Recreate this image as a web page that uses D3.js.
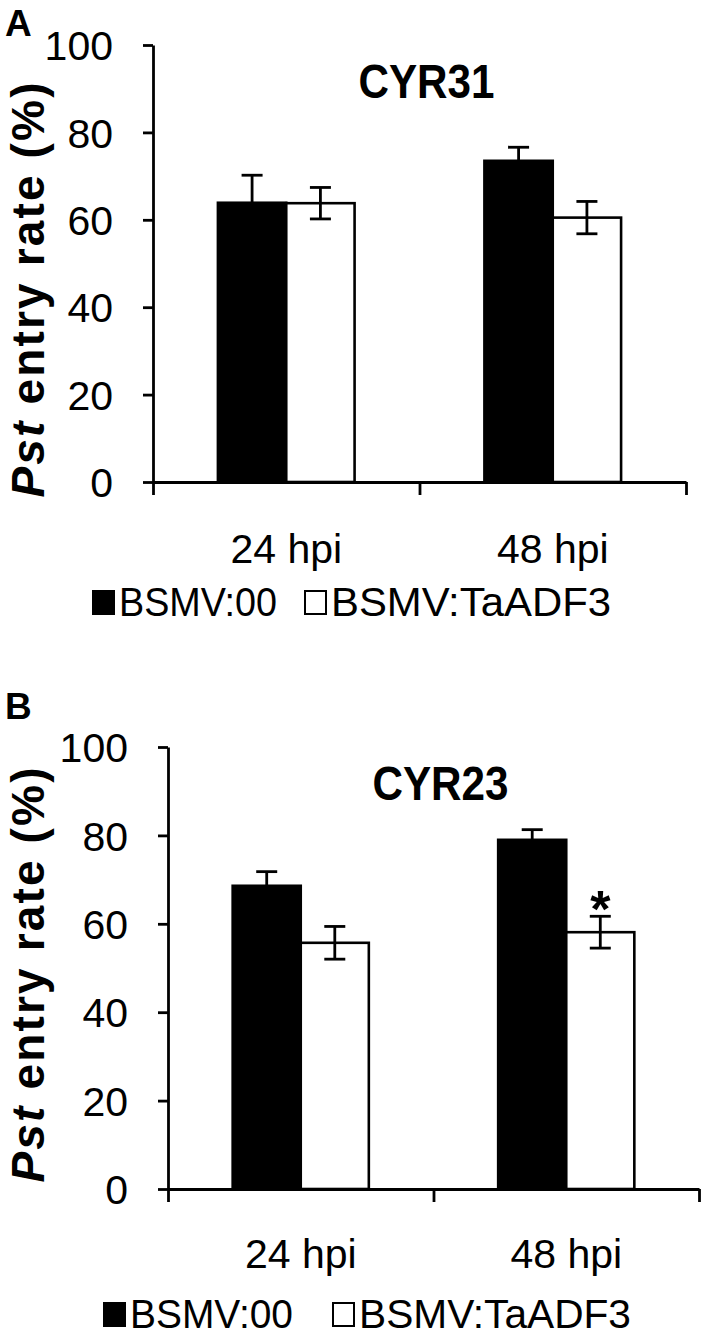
<!DOCTYPE html>
<html>
<head>
<meta charset="utf-8">
<script src="https://cdn.jsdelivr.net/npm/d3@7"></script>
<style>
  body { margin: 0; background: #fff; }
  svg { display: block; font-family: "Liberation Sans", Arial, sans-serif; }
  .axis path, .axis line { stroke: #000; stroke-width: 2.8px; }
  .axis text { font-size: 41px; fill: #000; }
</style>
</head>
<body>
<svg width="708" height="1336"></svg>
<script>
// data
var groups = ["24 hpi", "48 hpi"];
var seriesNames = ["BSMV:00", "BSMV:TaADF3"];
var yTicks = [0, 20, 40, 60, 80, 100];

var cyr31_00 = [63.9, 73.5];
var cyr31_00_err = [6.3, 3.1];
var cyr31_adf3 = [63.8, 60.5];
var cyr31_adf3_err = [3.6, 3.7];
var cyr31_marks = ["", ""];

var cyr23_00 = [68.6, 79.0];
var cyr23_00_err = [3.2, 2.3];
var cyr23_adf3 = [55.7, 58.1];
var cyr23_adf3_err = [3.7, 3.6];
var cyr23_marks = ["", "*"];

var svg = d3.select("svg");

function draw_panel(p) {
    var x0 = d3.scaleBand().domain(groups).range([p.left, p.right]);
    var x1 = d3.scaleBand().domain(seriesNames)
        .range([0, x0.bandwidth()])
        .paddingOuter(0.95);
    var y = d3.scaleLinear().domain([0, 100]).range([p.bottom, p.top]);

    var g = svg.append("g");

    var rows = [];
    groups.forEach(function(grp, i) {
        rows.push({grp: grp, s: seriesNames[0], v: p.a[i], e: p.ae[i], mark: ""});
        rows.push({grp: grp, s: seriesNames[1], v: p.b[i], e: p.be[i], mark: p.marks[i]});
    });

    function cx(d) { return x0(d.grp) + x1(d.s) + x1.bandwidth() / 2; }

    // bars
    g.selectAll("rect.bar").data(rows).enter().append("rect")
        .attr("class", "bar")
        .attr("x", function(d) { return x0(d.grp) + x1(d.s); })
        .attr("y", function(d) { return y(d.v); })
        .attr("width", x1.bandwidth())
        .attr("height", function(d) { return y(0) - y(d.v); })
        .style("fill", function(d) { return d.s == seriesNames[0] ? "#000" : "#fff"; })
        .style("stroke", "#000")
        .style("stroke-width", 2.6);

    // error bars
    var cap = 10.5;
    var eb = g.selectAll("g.err").data(rows).enter().append("g")
        .attr("class", "err")
        .style("stroke", "#000")
        .style("stroke-width", 2.8);
    eb.append("line")
        .attr("x1", cx)
        .attr("x2", cx)
        .attr("y1", function(d) { return y(d.v - d.e); })
        .attr("y2", function(d) { return y(d.v + d.e); });
    [1, -1].forEach(function(sign) {
        eb.append("line")
            .attr("x1", function(d) { return cx(d) - cap; })
            .attr("x2", function(d) { return cx(d) + cap; })
            .attr("y1", function(d) { return y(d.v + sign * d.e); })
            .attr("y2", function(d) { return y(d.v + sign * d.e); });
    });

    // significance marks
    g.selectAll("text.mark").data(rows.filter(function(d) { return d.mark; }))
        .enter().append("text")
        .attr("x", cx)
        .attr("y", function(d) { return y(d.v + d.e) + 11; })
        .attr("text-anchor", "middle")
        .style("font-size", "52px")
        .style("font-weight", "bold")
        .text(function(d) { return d.mark; });

    // y axis
    g.append("g")
        .attr("class", "axis")
        .attr("transform", "translate(" + p.left + ",0)")
        .call(d3.axisLeft(y).tickValues(yTicks).tickSize(10).tickSizeOuter(0).tickPadding(30))
        .selectAll("text").attr("dy", "0.36em");

    // x axis: ticks at group boundaries
    var xb = d3.scaleLinear().domain([0, groups.length]).range([p.left, p.right]);
    g.append("g")
        .attr("class", "axis")
        .attr("transform", "translate(0," + p.bottom + ")")
        .call(d3.axisBottom(xb).tickValues(d3.range(groups.length + 1))
            .tickFormat("").tickSize(13).tickSizeOuter(0));

    // x labels
    g.append("g")
        .attr("class", "axis")
        .attr("transform", "translate(0," + p.bottom + ")")
        .call(d3.axisBottom(x0).tickSize(0).tickPadding(p.labelPad))
        .call(function(a) { a.select(".domain").remove(); });

    // title
    g.append("text")
        .attr("x", (p.left + p.right) / 2 + 7)
        .attr("y", p.top + 53)
        .attr("text-anchor", "middle")
        .attr("textLength", 136)
        .attr("lengthAdjust", "spacingAndGlyphs")
        .style("font-size", "49px")
        .style("font-weight", "bold")
        .text(p.title);

    // y label
    var yl = g.append("text")
        .attr("transform", "translate(44," + p.labelY + ") rotate(-90)")
        .attr("text-anchor", "middle")
        .attr("textLength", 415)
        .style("font-size", "46px")
        .style("font-weight", "bold");
    yl.append("tspan").style("font-style", "italic").text("Pst");
    yl.append("tspan").text(" entry  rate  (%)");

    // panel letter
    g.append("text")
        .attr("x", 5)
        .attr("y", p.letterY)
        .style("font-size", "37px")
        .style("font-weight", "bold")
        .text(p.letter);

    // legend
    var lg = g.append("g").attr("transform", "translate(0," + p.legendY + ")");
    var lx = [p.legendX, p.legendX + p.legendGap];
    seriesNames.forEach(function(s, i) {
        lg.append("rect")
            .attr("x", lx[i])
            .attr("y", -25)
            .attr("width", 21)
            .attr("height", 23)
            .style("fill", i == 0 ? "#000" : "#fff")
            .style("stroke", "#000")
            .style("stroke-width", 2);
        lg.append("text")
            .attr("x", lx[i] + 26)
            .attr("y", 0)
            .attr("textLength", p.legendLen[i])
            .attr("lengthAdjust", "spacingAndGlyphs")
            .style("font-size", "41px")
            .text(s);
    });
}

draw_panel({
    letter: "A", letterY: 36, title: "CYR31",
    left: 153, right: 686, top: 45, bottom: 482,
    a: cyr31_00, ae: cyr31_00_err, b: cyr31_adf3, be: cyr31_adf3_err, marks: cyr31_marks,
    labelPad: 52, labelY: 290, legendY: 616, legendX: 93, legendGap: 212, legendLen: [158, 280]
});

draw_panel({
    letter: "B", letterY: 719, title: "CYR23",
    left: 168, right: 699, top: 747, bottom: 1189,
    a: cyr23_00, ae: cyr23_00_err, b: cyr23_adf3, be: cyr23_adf3_err, marks: cyr23_marks,
    labelPad: 50, labelY: 975, legendY: 1328, legendX: 104, legendGap: 229, legendLen: [163, 272]
});
</script>
</body>
</html>
